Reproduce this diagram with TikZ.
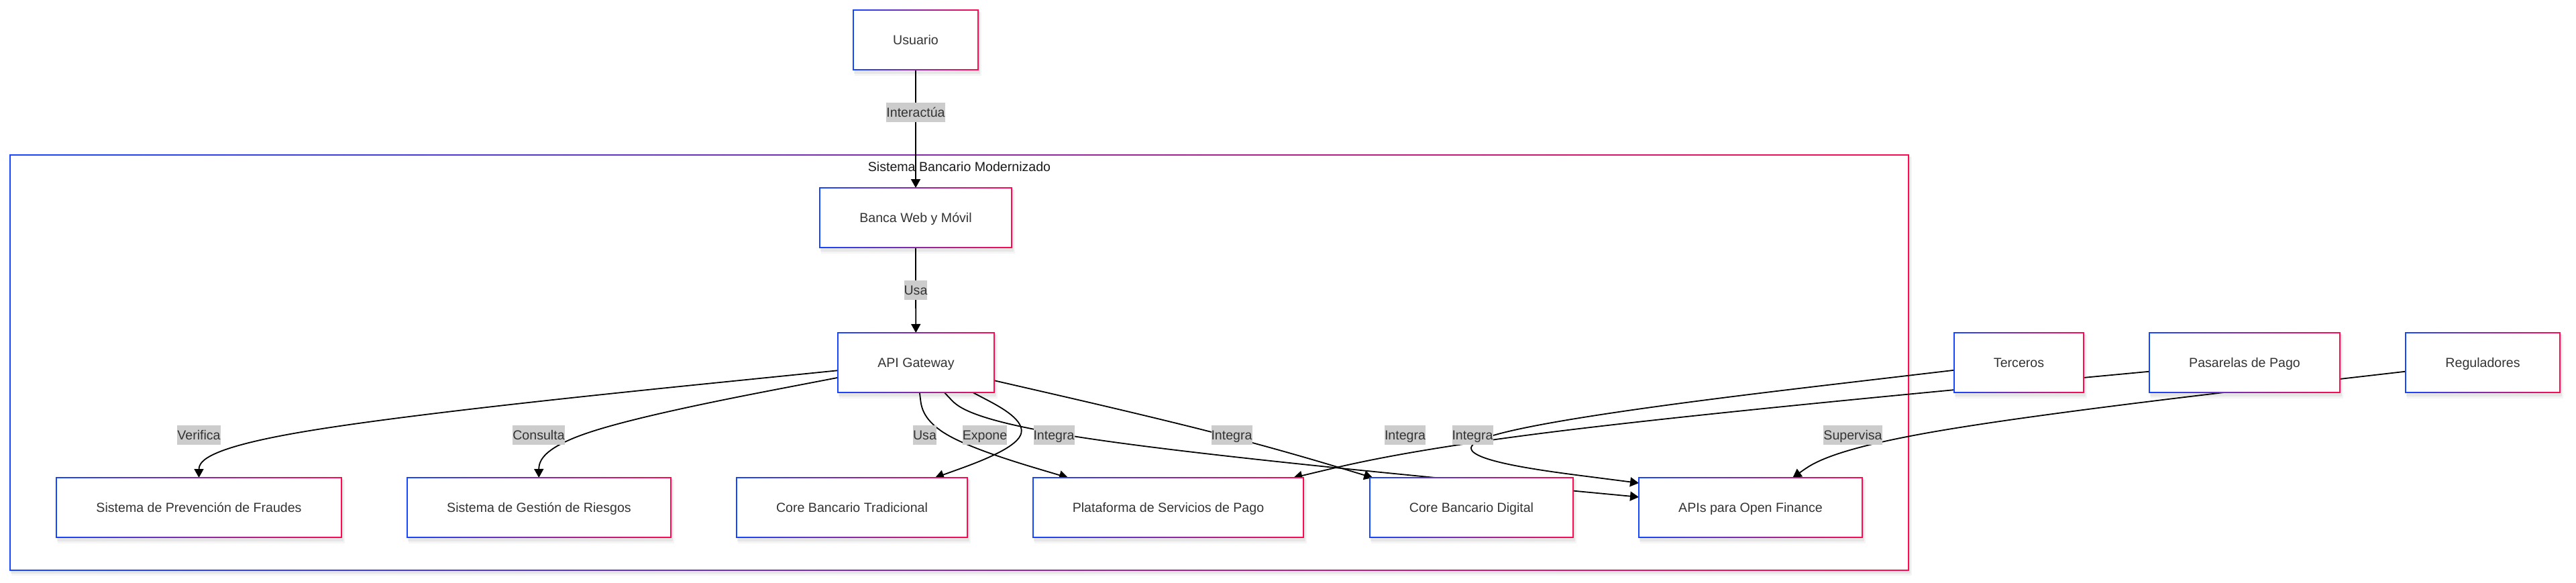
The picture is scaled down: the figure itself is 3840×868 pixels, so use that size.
\documentclass[tikz,border=0pt]{standalone}
\usepackage{fontspec}
\setmainfont{Liberation Sans}
\usetikzlibrary{arrows.meta,calc}
\definecolor{gblue}{RGB}{20,70,255}
\definecolor{gred}{RGB}{255,10,80}
\definecolor{txt}{RGB}{51,51,51}
\definecolor{lblbg}{RGB}{204,204,204}
\pgfdeclarelayer{bg}
\pgfdeclarelayer{shadowl}
\pgfdeclarelayer{edgel}
\pgfdeclarelayer{fg}
\pgfsetlayers{bg,shadowl,edgel,main,fg}
\newcommand\fs{\fontsize{9.8pt}{11.8pt}\selectfont}
\newcommand\gborder[1]{%
  \shade[left color=gblue,right color=gred] ([shift={(-0.8,-0.8)}]#1.north west) rectangle ([shift={(0.8,0.8)}]#1.north east);
  \shade[left color=gblue,right color=gred] ([shift={(-0.8,-0.8)}]#1.south west) rectangle ([shift={(0.8,0.8)}]#1.south east);
  \fill[gblue] ([shift={(-0.8,-0.8)}]#1.north west) rectangle ([shift={(0.8,0.8)}]#1.south west);
  \fill[gred] ([shift={(-0.8,-0.8)}]#1.north east) rectangle ([shift={(0.8,0.8)}]#1.south east);
}
\newcommand\gshadow[1]{%
  \begin{pgfonlayer}{shadowl}
  \fill[black,opacity=0.06] ([shift={(1,2)}]#1.north west) rectangle ([shift={(3,6)}]#1.south east);
  \fill[black,opacity=0.04] ([shift={(2,3)}]#1.north west) rectangle ([shift={(5,9)}]#1.south east);
  \end{pgfonlayer}
}
\newcommand\deco[1]{\gshadow{#1}\gborder{#1}}
% B-spline through start point, control point, end point (as mermaid's basis curve)
\newcommand\bsraw[3]{%
  \begin{pgfonlayer}{edgel}
  \draw[edge] (#1) -- ($(#1)!1/6!(#2.center)$)
    .. controls ($(#1)!1/3!(#2.center)$) and ($(#1)!2/3!(#2.center)$) .. ($(#2.center)!1/3!($(#1)!0.5!(#3)$)$)
    .. controls ($(#2.center)!1/3!(#3)$) and ($(#2.center)!2/3!(#3)$) .. ($(#2.center)!5/6!(#3)$) -- (#3);
  \end{pgfonlayer}
}
\newcommand\bsedge[3]{%
  \path (#1) -- (#2.center) coordinate[pos=0] (bsA);
  \path (#3) -- (#2.center) coordinate[pos=0] (bsC);
  \bsraw{bsA}{#2}{bsC}%
}
\begin{document}
\begin{tikzpicture}[x=0.5pt,y=-0.5pt,
  box/.style={rectangle, fill=white, draw=none, inner sep=0pt, outer sep=0pt, minimum height=44.5pt, text=txt, font=\fs, text height=8.4pt, text depth=1.6pt},
  lbl/.style={rectangle, fill=lblbg, inner xsep=0pt, inner ysep=0pt, outer sep=0pt, minimum height=14.5pt, text=txt, font=\fs, text height=8.4pt, text depth=1.6pt},
  edge/.style={draw=black, line width=0.9pt, -{Triangle[length=6.5pt,width=7pt]}},
  clubox/.style={rectangle, fill=white, draw=none, inner sep=0pt, outer sep=0pt},
  title/.style={text=black!90, font=\fs, inner sep=0pt}
]
\useasboundingbox (0,0) rectangle (3840,868);
\begin{pgfonlayer}{bg}
  \fill[white] (0,0) rectangle (3840,868);
  \fill[black,opacity=0.06] (16,233) rectangle (2848,855);
  \fill[black,opacity=0.04] (17,234) rectangle (2850,858);
  \node[clubox, minimum width=1415pt, minimum height=309.5pt] (clu) at (1430,540.5) {};
  \gborder{clu}
  \node[title, anchor=base] (ttl) at (1430,255) {Sistema Bancario Modernizado};
\end{pgfonlayer}

% nodes
\node[box, minimum width=93pt] (usr) at (1365,59.5) {Usuario};
\node[box, minimum width=143pt] (web) at (1365,324.5) {Banca Web y Móvil};
\node[box, minimum width=116.5pt] (api) at (1365.5,540.5) {API Gateway};
\node[box, minimum width=212.5pt] (fraud) at (296.5,756.5) {Sistema de Prevención de Fraudes};
\node[box, minimum width=196.5pt] (risk) at (803.5,756.5) {Sistema de Gestión de Riesgos};
\node[box, minimum width=172pt] (coret) at (1270,756.5) {Core Bancario Tradicional};
\node[box, minimum width=201.5pt] (pay) at (1741.5,756.5) {Plataforma de Servicios de Pago};
\node[box, minimum width=151.5pt] (cored) at (2193.5,756.5) {Core Bancario Digital};
\node[box, minimum width=166.5pt] (open) at (2609.5,756.5) {APIs para Open Finance};
\node[box, minimum width=96.5pt] (ter) at (3009.5,540.5) {Terceros};
\node[box, minimum width=142pt] (pas) at (3346,540.5) {Pasarelas de Pago};
\node[box, minimum width=115pt] (reg) at (3701,540.5) {Reguladores};
\deco{usr}\deco{web}\deco{api}\deco{fraud}\deco{risk}\deco{coret}
\deco{pay}\deco{cored}\deco{open}\deco{ter}\deco{pas}\deco{reg}

% labels
\begin{pgfonlayer}{fg}
\node[lbl] (lInt) at (1365,167.5) {Interactúa};
\node[lbl] (lUsaA) at (1365,432.5) {Usa};
\node[lbl] (lVer) at (296.5,648.5) {Verifica};
\node[lbl] (lCon) at (803,648.5) {Consulta};
\node[lbl] (lUsaB) at (1378.5,648.5) {Usa};
\node[lbl] (lExp) at (1468,648.5) {Expone};
\node[lbl] (lIntA) at (1571,648.5) {Integra};
\node[lbl] (lIntB) at (1836,648.5) {Integra};
\node[lbl] (lIntC) at (2094.5,648.5) {Integra};
\node[lbl] (lIntD) at (2195,648.5) {Integra};
\node[lbl] (lSup) at (2762,648.5) {Supervisa};
\end{pgfonlayer}

% edges
\bsedge{usr}{lInt}{web}
\bsedge{web}{lUsaA}{api}
\bsedge{api}{lVer}{fraud}
\bsedge{api}{lCon}{risk}
\bsedge{api}{lUsaB}{pay}
\bsedge{api}{lExp}{open}
\bsedge{api}{lIntA}{coret}
\bsedge{api}{lIntB}{cored}
\coordinate (cTer) at (1983,661);
\path (ter) -- (cTer) coordinate[pos=0] (terA);
\coordinate (terC) at ($(open.north west)+(0,8)$);
\bsraw{terA}{cTer}{terC}
\bsedge{pas}{lIntD}{pay}
\bsedge{reg}{lSup}{open}
\end{tikzpicture}
\end{document}
